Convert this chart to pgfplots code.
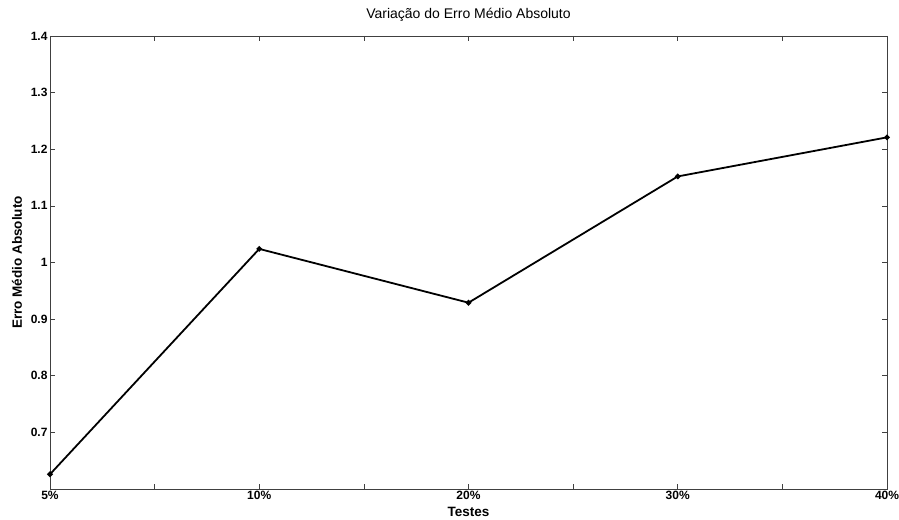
\documentclass[border=0pt]{standalone}
\usepackage{fontspec}
\setmainfont{Liberation Sans}
\usepackage{pgfplots}
\pgfplotsset{compat=1.18}
\begin{document}
\begin{tikzpicture}
\begin{axis}[
  scale only axis,
  width=837pt, height=453pt,
  xmin=1, xmax=5, ymin=0.6, ymax=1.4,
  xtick={1,1.5,...,5},
  xticklabels={5\%,,10\%,,20\%,,30\%,,40\%},
  ytick={0.7,0.8,0.9,1,1.1,1.2,1.3,1.4},
  yticklabels={0.7,0.8,0.9,1,1.1,1.2,1.3,1.4},
  tick align=inside,
  major tick length=5pt,
  tick style={black!75, line width=0.6pt},
  axis line style={black!75, line width=0.8pt},
  ticklabel style={font=\fontsize{12}{13}\selectfont\bfseries},
  xticklabel style={yshift=1pt},
  yticklabel style={xshift=1pt},
  title={Variação do Erro Médio Absoluto},
  title style={font=\fontsize{14}{15}\selectfont, at={(0.5,1)}, anchor=south, yshift=5pt},
  xlabel={Testes},
  ylabel={Erro Médio Absoluto},
  label style={font=\fontsize{13.5}{14}\selectfont\bfseries},
  xlabel style={at={(0.5,0)}, anchor=center, yshift=-23pt},
  ylabel style={at={(0,0.5)}, anchor=center, yshift=33pt},
]
\addplot[black, line width=1.8pt, mark=*, mark size=1.8pt] coordinates {
  (1,0.626) (2,1.024) (3,0.929) (4,1.152) (5,1.221)
};
\end{axis}
\pgfresetboundingbox
\path (current axis.south west) ++(-50pt,-31pt) coordinate (bl);
\path (current axis.north east) ++(12pt,36pt) coordinate (tr);
\path (bl) rectangle (tr);
\end{tikzpicture}
\end{document}
